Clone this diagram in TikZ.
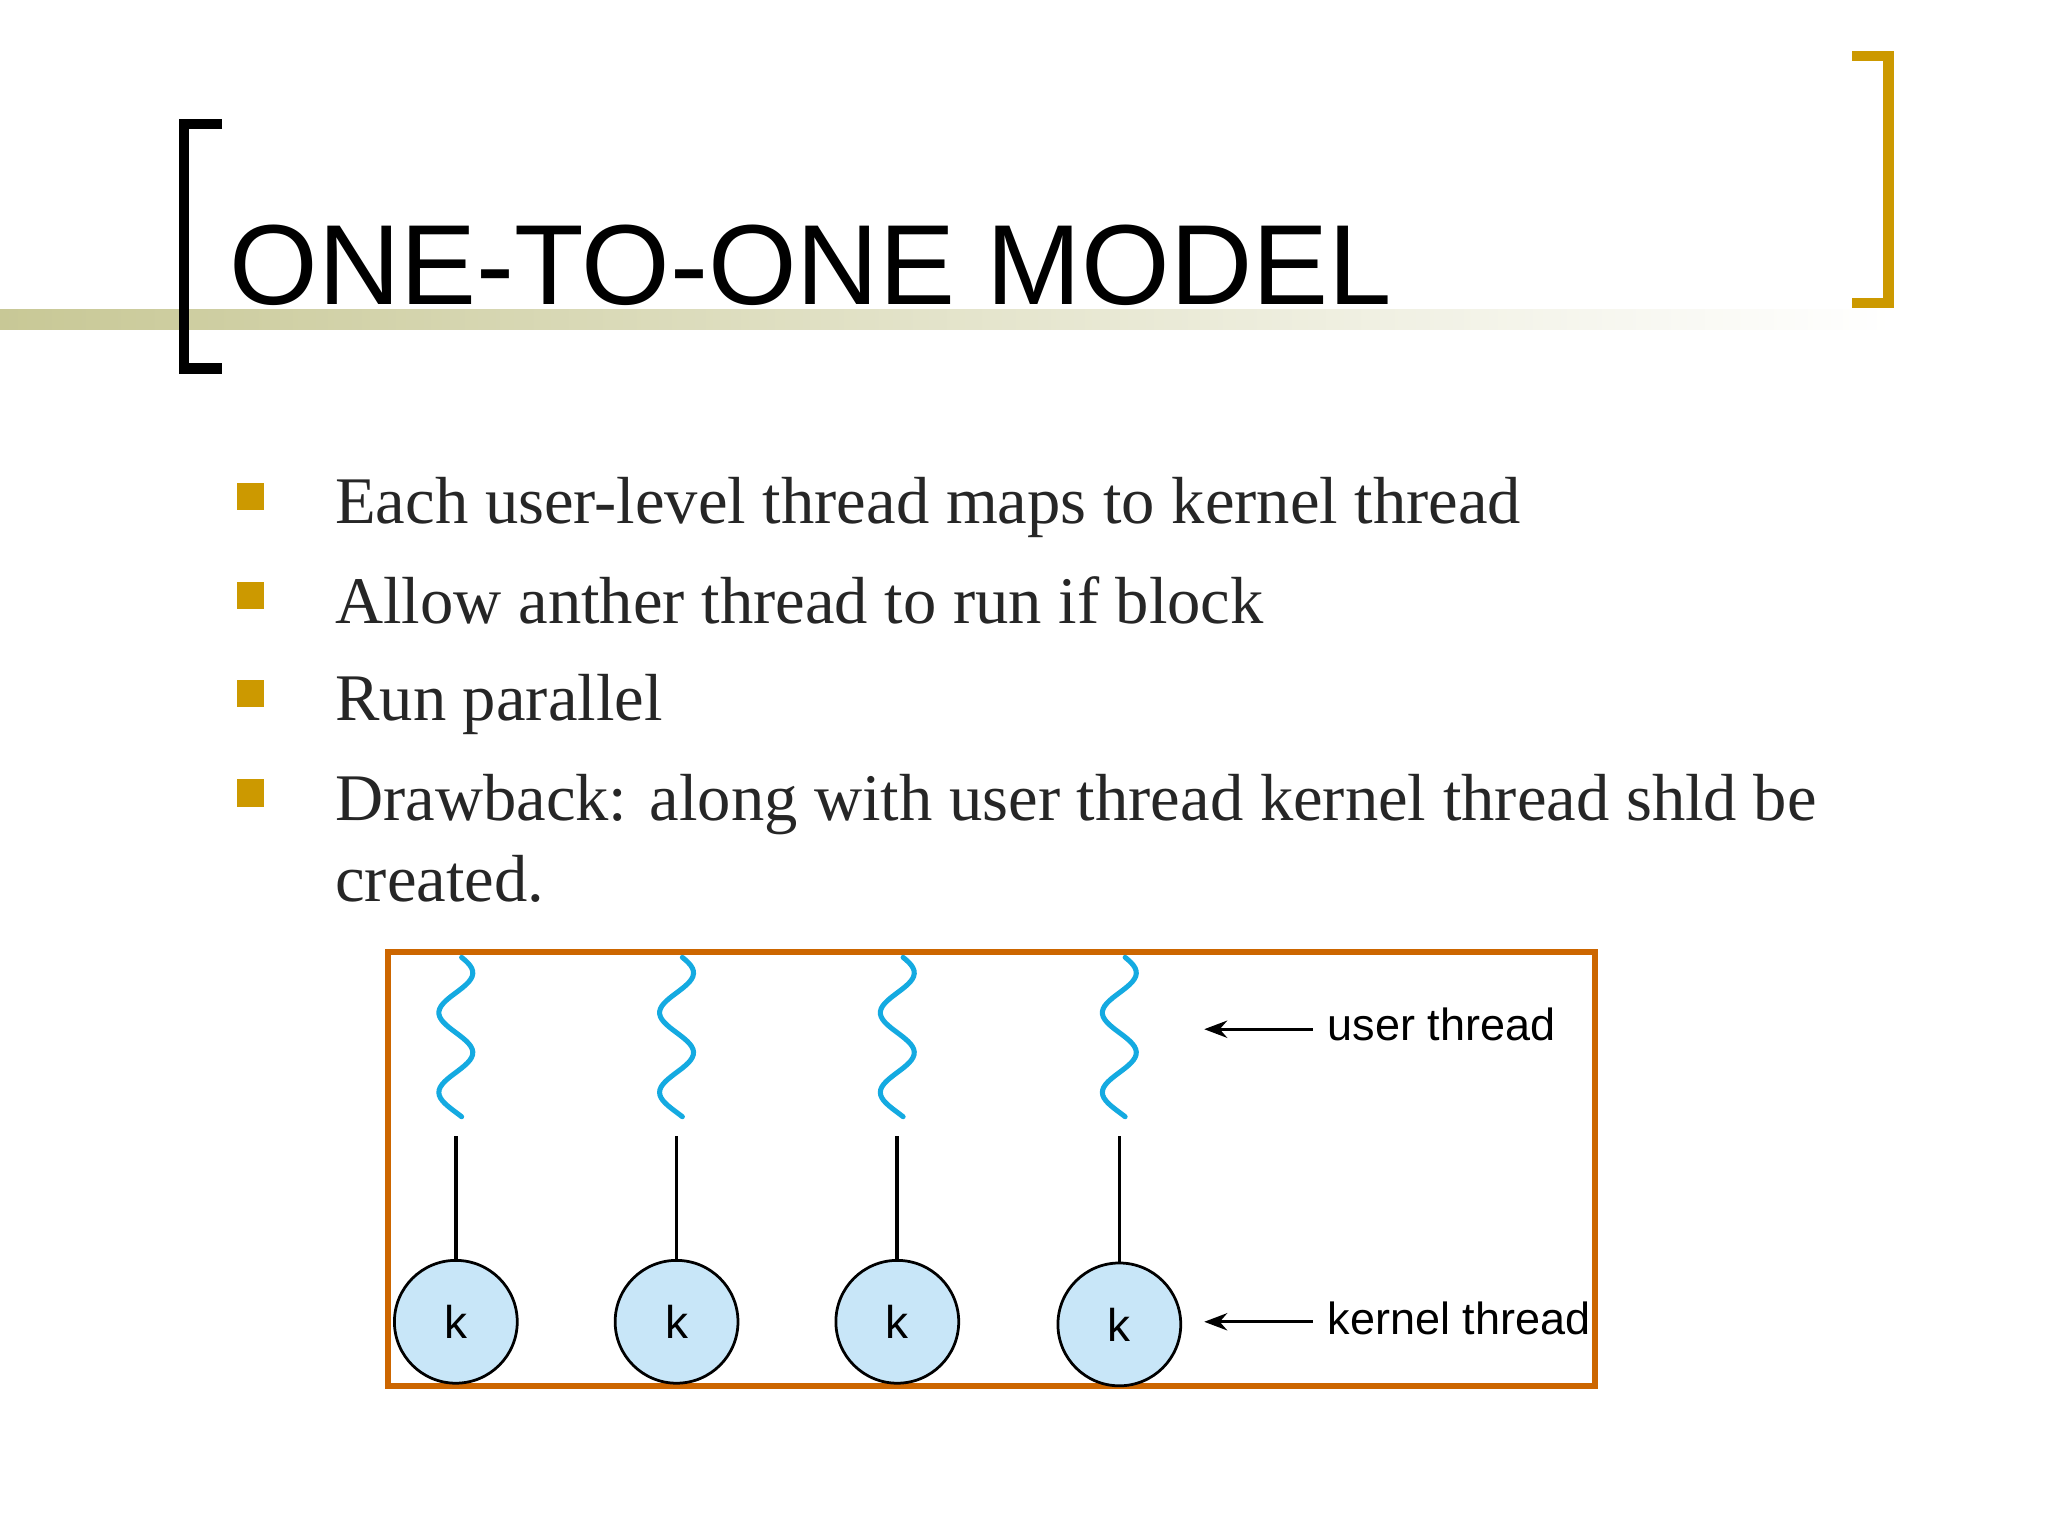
\documentclass[tikz,border=0pt]{standalone}
\usepackage{fontspec}
\usetikzlibrary{arrows.meta}
\setmainfont{Liberation Serif}
\newfontfamily\sansf{Liberation Sans}
\definecolor{gold}{RGB}{204,153,0}
\definecolor{olive}{RGB}{200,200,150}
\definecolor{boxor}{RGB}{204,102,0}
\definecolor{wave}{RGB}{20,170,225}
\definecolor{kfill}{RGB}{200,230,248}
\begin{document}
\begin{tikzpicture}[x=0.01cm,y=-0.01cm,
  bul/.style={fill=gold,minimum size=0.21cm,inner sep=0pt},
  btxt/.style={anchor=base west,font=\fontsize{14.5}{17}\selectfont,text=black!85,inner sep=0pt},
  kn/.style={circle,draw,line width=0.6pt,fill=kfill,minimum width=0.94cm,inner sep=0pt,font=\sansf\fontsize{10}{12}\selectfont},
  lab/.style={anchor=base west,font=\sansf\fontsize{9.8}{12}\selectfont,inner sep=0pt},
  arr/.style={-{Stealth[length=5pt]},line width=0.7pt}]
\useasboundingbox (0,0) rectangle (1568,1176);
\fill[white] (0,0) rectangle (1568,1176);
\shade[left color=olive,right color=white] (0,237) rectangle (1450,252);
\fill[white] (1450,237) rectangle (1568,252);
% brackets
\draw[line width=2.3pt] (170,95) -- (141,95) -- (141,282) -- (170,282);
\draw[gold,line width=2.3pt] (1418,43) -- (1446,43) -- (1446,232) -- (1418,232);
\node[anchor=base west,inner sep=0pt,font=\sansf\fontsize{24.8}{28}\selectfont] (title) at (175,233) {ONE-TO-ONE MODEL};
% bullets
\foreach \yy/\t [count=\i] in {380/{Each user-level thread maps to kernel thread},456/{Allow anther thread to run if block},531/{Run parallel},607/{Drawback: along with user thread kernel thread shld be}}{
  \node[bul] (b\i) at (192,\yy) {};
  \node[btxt] (t\i) at (256,\yy+21) {\t};
}
\node[btxt] (t5) at (256,690) {created.};
% box
\draw[boxor,line width=1.4pt] (297,729) rectangle (1221,1061);
\foreach \xx/\ky [count=\i] in {349/1012,518/1012,687/1012,857/1014}{
  \draw[wave,line width=1.1pt,line cap=round] plot[domain=0:122,samples=60,smooth] ({\xx+13*sin(\x/122*720+20)},{733+\x});
  \node[kn] (k\i) at (\xx,\ky) {k};
  \coordinate (u\i) at (\xx,870);
  \draw[line width=0.8pt] (u\i) -- (k\i);
}
\coordinate (ua) at (1005,788);
\coordinate (ub) at (922,788);
\draw[arr] (ua) -- (ub);
\coordinate (ka) at (1005,1012);
\coordinate (kb) at (922,1012);
\draw[arr] (ka) -- (kb);
\node[lab] (ul) at (1016,797) {user thread};
\node[lab] (kl) at (1016,1022) {kernel thread};
\end{tikzpicture}
\end{document}
